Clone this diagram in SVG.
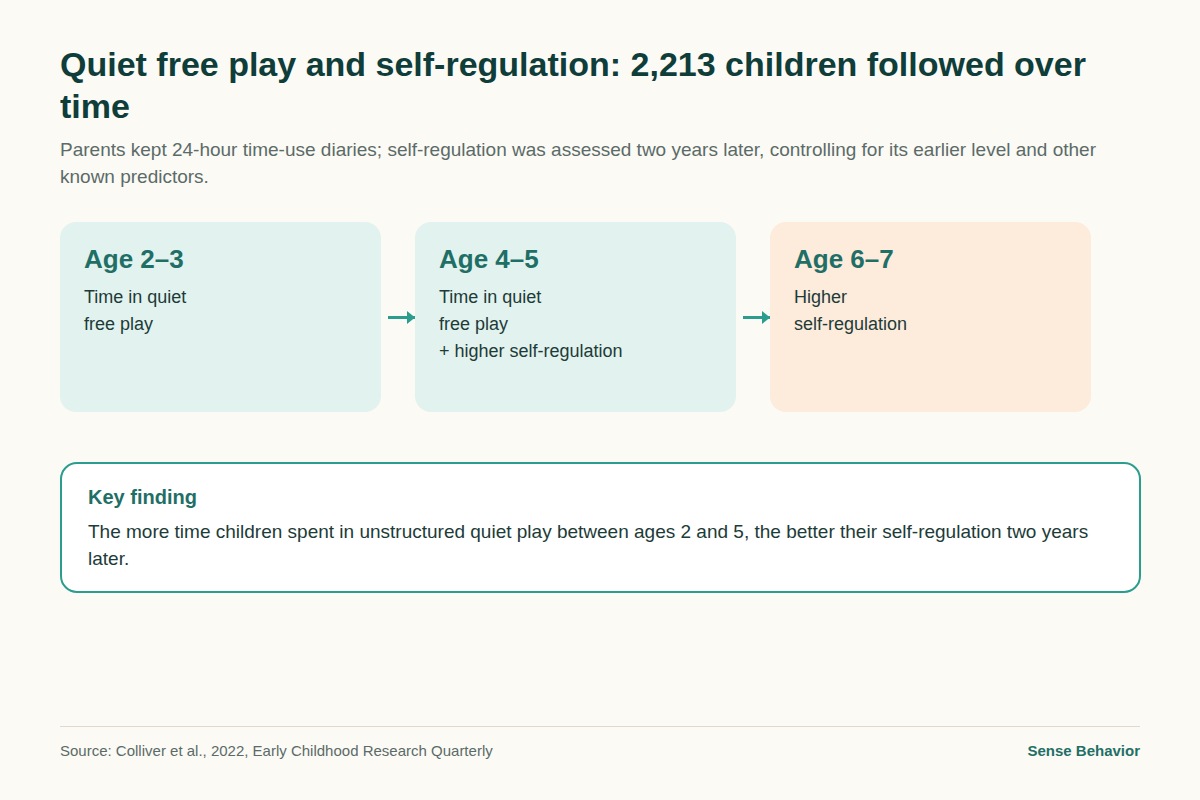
<svg xmlns="http://www.w3.org/2000/svg" width="1200" height="800" viewBox="0 0 1200 800">
<defs>
<marker id="ah" viewBox="0 0 10 10" refX="10" refY="5" markerWidth="8" markerHeight="13" markerUnits="userSpaceOnUse" orient="auto" preserveAspectRatio="none">
<path d="M0,0 L10,5 L0,10 Z" fill="#2a9d8f"/>
</marker>
<style>
text{font-family:"Liberation Sans",Arial,sans-serif}
.title{font-size:34px;font-weight:bold;fill:#0f3d3a}
.sub{font-size:19px;fill:#5b6b68}
.h{font-size:26px;font-weight:bold;fill:#1f6f66}
.b{font-size:18px;fill:#1d3b38}
.box{fill:#e2f2ee}
.box2{fill:#fdebdc}
.conn{stroke:#2a9d8f;stroke-width:3;fill:none}
.kh{font-size:20px;font-weight:bold;fill:#1f6f66}
.kb{font-size:19px;fill:#1d3b38}
.foot{font-size:15px;fill:#5b6b68}
.brand{font-size:15px;font-weight:bold;fill:#1f6f66}
</style>
</defs>
<rect width="1200" height="800" fill="#fbfaf5"/>
<text class="title" x="60" y="76">Quiet free play and self-regulation: 2,213 children followed over</text>
<text class="title" x="60" y="118">time</text>
<text class="sub" x="60" y="156">Parents kept 24-hour time-use diaries; self-regulation was assessed two years later, controlling for its earlier level and other</text>
<text class="sub" x="60" y="183">known predictors.</text>
<g id="node1">
<rect class="box" x="60" y="222" width="321" height="190" rx="16"/>
<text class="h" x="84" y="268">Age 2–3</text>
<text class="b" x="84" y="303">Time in quiet</text>
<text class="b" x="84" y="330">free play</text>
</g>
<g id="node2">
<rect class="box" x="415" y="222" width="321" height="190" rx="16"/>
<text class="h" x="439" y="268">Age 4–5</text>
<text class="b" x="439" y="303">Time in quiet</text>
<text class="b" x="439" y="330">free play</text>
<text class="b" x="439" y="357">+ higher self-regulation</text>
</g>
<g id="node3">
<rect class="box2" x="770" y="222" width="321" height="190" rx="16"/>
<text class="h" x="794" y="268">Age 6–7</text>
<text class="b" x="794" y="303">Higher</text>
<text class="b" x="794" y="330">self-regulation</text>
</g>
<g id="connectors">
<line class="conn" x1="388" y1="317.5" x2="415" y2="317.5" marker-end="url(#ah)"/>
<line class="conn" x1="743" y1="317.5" x2="770" y2="317.5" marker-end="url(#ah)"/>
</g>
<g id="keyfinding">
<rect x="61" y="463" width="1079" height="129" rx="16" fill="#ffffff" stroke="#2a9d8f" stroke-width="2"/>
<text class="kh" x="88" y="504">Key finding</text>
<text class="kb" x="88" y="538">The more time children spent in unstructured quiet play between ages 2 and 5, the better their self-regulation two years</text>
<text class="kb" x="88" y="565">later.</text>
</g>
<line x1="60" y1="726.5" x2="1140" y2="726.5" stroke="#e2d8cf" stroke-width="1"/>
<text class="foot" x="60" y="756">Source: Colliver et al., 2022, Early Childhood Research Quarterly</text>
<text class="brand" x="1140" y="756" text-anchor="end">Sense Behavior</text>
</svg>
